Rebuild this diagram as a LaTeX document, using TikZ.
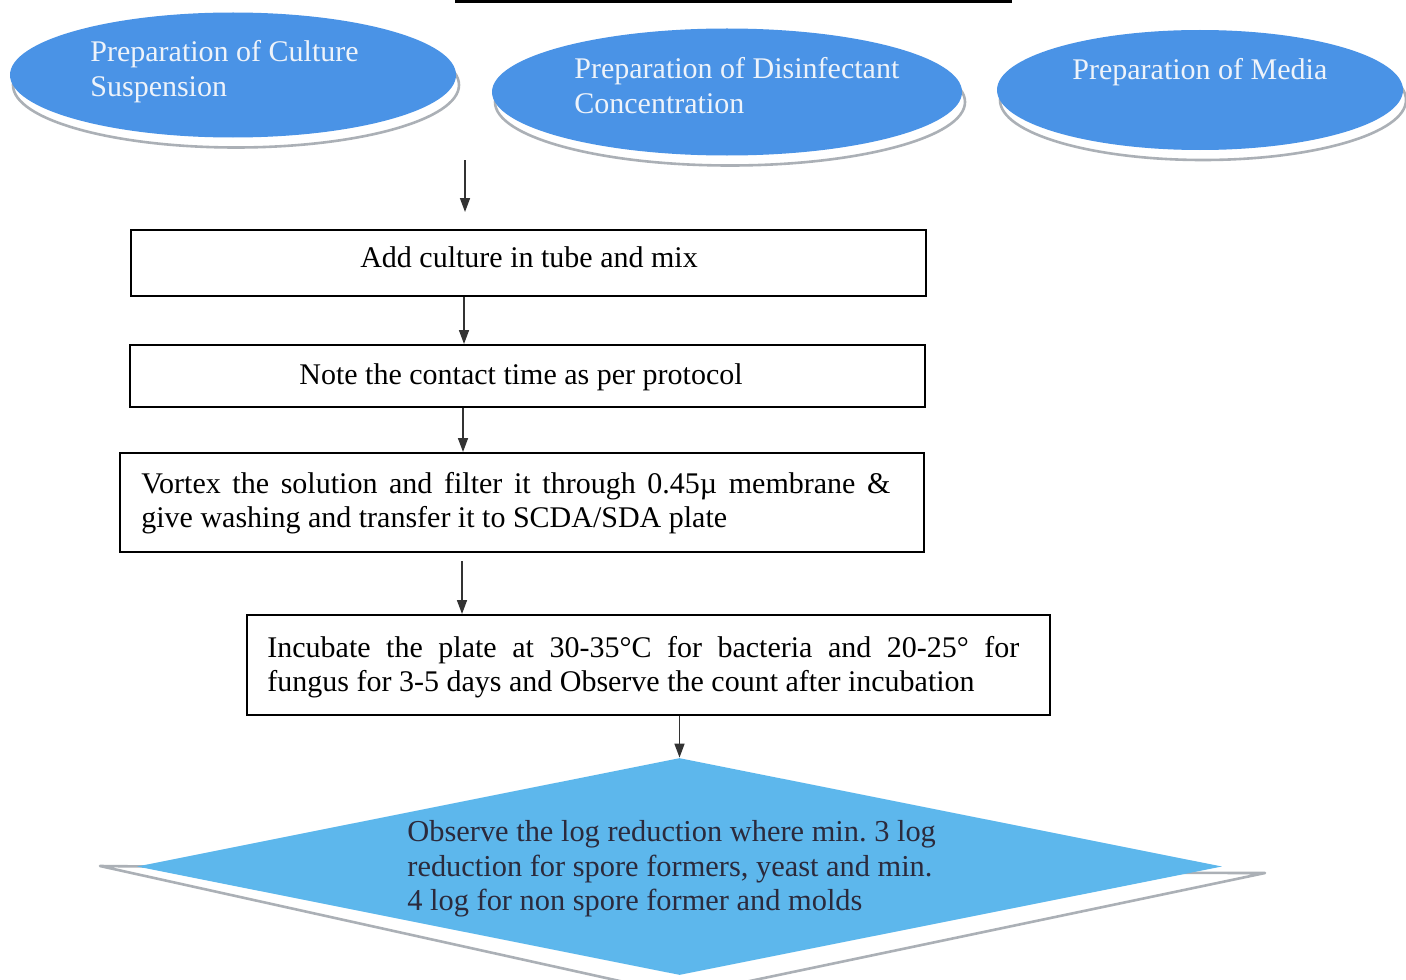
\documentclass[tikz,border=0pt]{standalone}
\usepackage{fontspec}
\setmainfont{Liberation Serif}
\usetikzlibrary{shapes.geometric,arrows.meta}
\definecolor{ellblue}{HTML}{4A93E6}
\definecolor{diablue}{HTML}{5DB7EC}
\definecolor{ringgray}{HTML}{ABB0B6}
\definecolor{etext}{HTML}{EEF3FA}
\definecolor{dtext}{HTML}{2B2A3C}
\frenchspacing
\begin{document}
\begin{tikzpicture}[x=0.5pt,y=-0.5pt,
  ell/.style={ellipse, fill=ellblue, draw=none, inner sep=0pt},
  ellsh/.style={ellipse, fill=white, draw=ringgray, line width=1.3pt, inner sep=0pt},
  etxt/.style={text=etext, font=\fontsize{15}{18}\selectfont, anchor=base west, inner sep=0pt},
  stepbox/.style={draw=black, line width=1pt, fill=white, inner sep=0pt},
  btxt/.style={font=\fontsize{15}{18}\selectfont, anchor=base west, inner sep=0pt},
  dtxt/.style={text=dtext, font=\fontsize{15.2}{18}\selectfont, anchor=base west, inner sep=0pt},
  arr/.style={draw=black!80, line width=0.8pt, -{Triangle[length=7pt,width=5pt]}},
]
\useasboundingbox (0,0) rectangle (1406,979);
\clip (0,0) rectangle (1406,979);
\fill[white] (0,0) rectangle (1406,979);

% top bar
\draw[line width=2pt] (455,1) -- (1012,1);

% ellipses
\node[ellsh, minimum width=223pt, minimum height=62.5pt] (e1s) at (236,85) {};
\node[ell, minimum width=223pt, minimum height=62.5pt] (e1) at (233,75) {};
\node[etxt] (e1a) at (90,62) {Preparation of Culture};
\node[etxt] (e1b) at (90,97) {Suspension};

\node[ellsh, minimum width=235pt, minimum height=63.5pt] (e2s) at (730,102) {};
\node[ell, minimum width=235pt, minimum height=63.5pt] (e2) at (727,92) {};
\node[etxt] (e2a) at (574,79) {Preparation of Disinfectant};
\node[etxt] (e2b) at (574,113) {Concentration};

\node[ellsh, minimum width=203pt, minimum height=60pt] (e3s) at (1203,100) {};
\node[ell, minimum width=203pt, minimum height=60pt] (e3) at (1200,90) {};
\node[etxt] (e3a) at (1072,80) {Preparation of Media};

% boxes
\node[stepbox, minimum width=397.5pt, minimum height=33pt] (b1) at (528.5,263) {};
\node[btxt, anchor=base] (t1) at (529,267) {Add culture in tube and mix};

\node[stepbox, minimum width=397.5pt, minimum height=31pt] (b2) at (527.5,376) {};
\node[btxt, anchor=base] (t2) at (521,384) {Note the contact time as per protocol};

\node[stepbox, minimum width=402pt, minimum height=49.5pt] (b3) at (522,502.5) {};
\node[btxt] (t3a) at (141,493) {\makebox[374.5pt][s]{Vortex the solution and filter it through 0.45µ membrane \&}};
\node[btxt] (t3b) at (141,527) {give washing and transfer it to SCDA/SDA plate};

\node[stepbox, minimum width=401.5pt, minimum height=50pt] (b4) at (648.5,665) {};
\node[btxt] (t4a) at (267,657) {\makebox[376pt][s]{Incubate the plate at 30-35°C for bacteria and 20-25° for}};
\node[btxt] (t4b) at (267,691) {fungus for 3-5 days and Observe the count after incubation};

% diamond
\path[fill=white, draw=ringgray, line width=1.3pt, line join=round] (680,872) -- (1265,873) -- (683,995) -- (100,866) -- cycle;
\node[diamond, fill=diablue, draw=none, inner sep=0pt, minimum width=542.5pt, minimum height=108.5pt] (dia) at (679.5,866.5) {};
\node[dtxt] (d1) at (407,841) {Observe the log reduction where min. 3 log};
\node[dtxt] (d2) at (407,876) {reduction for spore formers, yeast and min.};
\node[dtxt] (d3) at (407,910) {4 log for non spore former and molds};

% connectors
\coordinate (a1s) at (465,160);
\coordinate (a1e) at (465,212);
\draw[arr] (a1s) -- (a1e);
\coordinate (x2) at (464,0);
\draw[arr] (b1.south -| x2) -- (b2.north -| x2);
\coordinate (x3) at (463,0);
\draw[arr] (b2.south -| x3) -- (b3.north -| x3);
\coordinate (a4s) at (462,561);
\draw[arr] (a4s) -- (b4.north -| a4s);
\draw[arr] (b4.south -| dia.north) -- (dia.north);
\end{tikzpicture}
\end{document}
